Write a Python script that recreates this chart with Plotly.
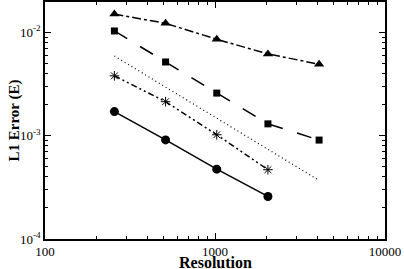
import plotly.graph_objects as go

resolution = [256, 512, 1024, 2048, 4096]
err_triangle = [0.0150, 0.0122, 0.00856, 0.00617, 0.00491]
err_square = [0.0103, 0.00516, 0.00258, 0.00130, 0.000906]
err_reference = [0.0059, 0.00295, 0.001475, 0.0007375, 0.00036875]
res_short = [256, 512, 1024, 2048]
err_star = [0.00379, 0.00213, 0.00102, 0.000468]
err_circle = [0.00171, 0.00091, 0.000474, 0.000258]

x_ticks = [100, 1000, 10000]
x_ticktext = ["100", "1000", "10000"]
y_ticks = [1e-4, 1e-3, 1e-2]
y_ticktext = ["10<sup>-4</sup>", "10<sup>-3</sup>", "10<sup>-2</sup>"]

x_minor = [m * d for d in (100, 1000) for m in range(2, 10)]
y_minor = [m * d for d in (1e-4, 1e-3, 1e-2) for m in range(2, 10)]

fig = go.Figure()
fig.add_trace(go.Scatter(x=resolution, y=err_triangle, mode="lines+markers",
                         line=dict(color="black", width=1.5, dash="dashdot"),
                         marker=dict(symbol="triangle-up", size=9, color="black")))
fig.add_trace(go.Scatter(x=resolution, y=err_square, mode="lines+markers",
                         line=dict(color="black", width=1.5, dash="longdash"),
                         marker=dict(symbol="square", size=7, color="black")))
fig.add_trace(go.Scatter(x=resolution, y=err_reference, mode="lines",
                         line=dict(color="black", width=1.2, dash="1px,3px")))
fig.add_trace(go.Scatter(x=res_short, y=err_star, mode="lines+markers",
                         line=dict(color="black", width=1.5, dash="6px,3px,2px,3px,2px,3px"),
                         marker=dict(symbol="asterisk-open", size=8, color="black",
                                     line=dict(color="black", width=1))))
fig.add_trace(go.Scatter(x=res_short, y=err_circle, mode="lines+markers",
                         line=dict(color="black", width=1.5),
                         marker=dict(symbol="circle", size=9, color="black")))

font = dict(family="Liberation Serif, Times New Roman, serif", color="black", size=13)

fig.update_layout(
    width=404, height=269,
    margin=dict(l=45, r=19, t=2, b=30),
    paper_bgcolor="white", plot_bgcolor="white",
    showlegend=False,
    font=font,
    annotations=[
        dict(text="<b>Resolution</b>", xref="paper", yref="paper", x=0.5, y=0,
             xanchor="center", yanchor="middle", yshift=-23, showarrow=False,
             font=dict(size=16)),
        dict(text="<b>L1 Error (E)</b>", xref="paper", yref="paper", x=0, y=0.5,
             xanchor="center", yanchor="middle", xshift=-31, textangle=-90,
             showarrow=False, font=dict(size=15)),
    ],
)
fig.update_xaxes(
    type="log", range=[2, 4], automargin=False,
    tickmode="array", tickvals=x_ticks, ticktext=x_ticktext,
    ticks="inside", ticklen=6, tickwidth=1, tickcolor="black",
    minor=dict(tickmode="array", tickvals=x_minor, ticks="inside", ticklen=3,
               tickcolor="black", showgrid=False),
    showline=True, linecolor="black", linewidth=1.5, mirror="ticks",
    showgrid=False, zeroline=False,
    tickfont=dict(size=13),
)
fig.update_yaxes(
    type="log", range=[-4, -1.707], automargin=False,
    tickmode="array", tickvals=y_ticks, ticktext=y_ticktext,
    ticks="inside", ticklen=6, tickwidth=1, tickcolor="black",
    minor=dict(tickmode="array", tickvals=y_minor, ticks="inside", ticklen=3,
               tickcolor="black", showgrid=False),
    showline=True, linecolor="black", linewidth=1.5, mirror="ticks",
    showgrid=False, zeroline=False,
    tickfont=dict(size=13),
)

fig.write_html("out.html", config={"displayModeBar": False},
               post_script="document.body.style.margin='0';")
